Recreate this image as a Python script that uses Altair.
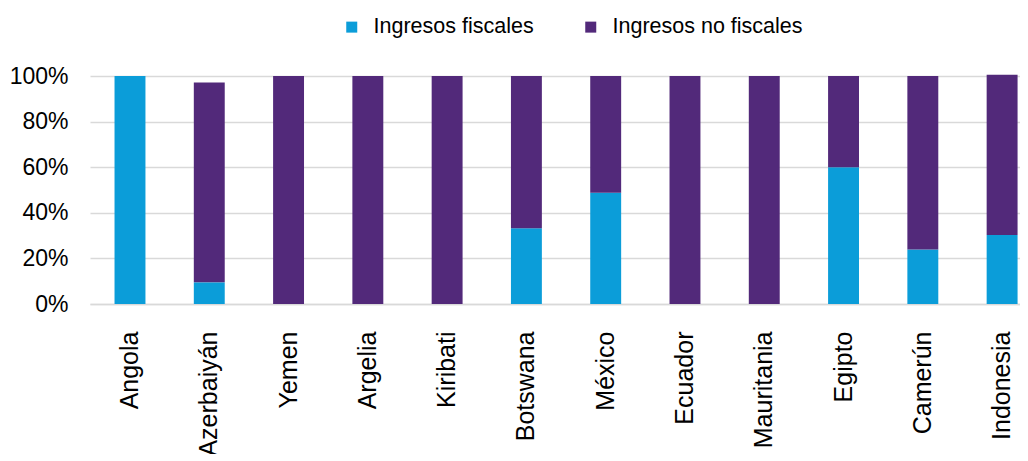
import altair as alt
import pandas as pd

countries = ["Angola", "Azerbaiyán", "Yemen", "Argelia", "Kiribati", "Botswana",
             "México", "Ecuador", "Mauritania", "Egipto", "Camerún", "Indonesia"]
fiscal = [100, 9.5, 0, 0, 0, 33.2, 48.8, 0, 0, 60.0, 23.9, 30.3]
no_fiscal = [0, 87.6, 100, 100, 100, 66.8, 51.2, 100, 100, 40.0, 76.1, 70.3]
series = ["Ingresos fiscales", "Ingresos no fiscales"]
colors = ["#0B9DD9", "#52297A"]

rows = []
for c, f, n in zip(countries, fiscal, no_fiscal):
    rows.append({"pais": c, "serie": series[0], "valor": f, "ord": 0})
    rows.append({"pais": c, "serie": series[1], "valor": n, "ord": 1})
df = pd.DataFrame(rows)

FONT = "Liberation Sans"

chart = alt.Chart(df).mark_bar().encode(
    x=alt.X("pais:N", sort=countries, title=None,
            scale=alt.Scale(paddingInner=0.61, paddingOuter=0.17, align=0.91),
            axis=alt.Axis(labelAngle=270, labelFontSize=25, labelPadding=27,
                          ticks=False, domain=True, domainColor="#D9D9D9",
                          domainWidth=1.5, grid=False, labelColor="#000000",
                          labelFont=FONT)),
    y=alt.Y("valor:Q", stack="zero", title=None,
            scale=alt.Scale(domain=[0, 100], nice=False),
            axis=alt.Axis(values=[0, 20, 40, 60, 80, 100],
                          labelExpr="datum.value + '%'",
                          labelFontSize=23, labelPadding=22, ticks=False,
                          domain=False, grid=True, gridColor="#D9D9D9",
                          gridWidth=1.5, labelColor="#000000", labelFont=FONT)),
    color=alt.Color("serie:N", title=None,
                    scale=alt.Scale(domain=series, range=colors),
                    legend=alt.Legend(orient="none", direction="horizontal",
                                      legendX=251, legendY=-60,
                                      symbolType="square", symbolSize=121,
                                      symbolStrokeWidth=0, labelFontSize=21.5,
                                      labelFont=FONT, labelColor="#000000",
                                      labelOffset=11, columnPadding=46,
                                      padding=0, labelLimit=400)),
    order=alt.Order("ord:Q", sort="ascending"),
).properties(
    width=930, height=228,
    autosize=alt.AutoSizeParams(type="none"),
    padding={"left": 82, "top": 68, "right": 0, "bottom": 150},
).configure_view(stroke=None)

chart.save("out.html", embed_options={"renderer": "svg", "actions": False})
